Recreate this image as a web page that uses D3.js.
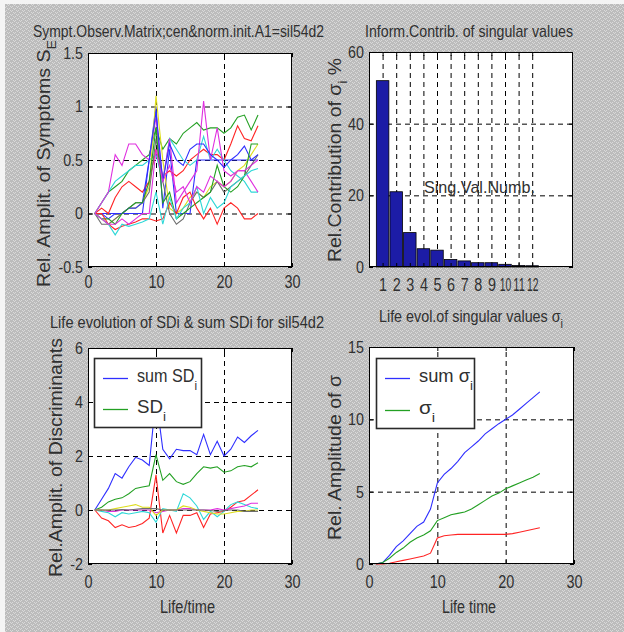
<!DOCTYPE html>
<html>
<head>
<meta charset="utf-8">
<script src="https://cdn.jsdelivr.net/npm/d3@7"></script>
<style>
body { margin: 0; background: #fff; }
text { font-family: "Liberation Sans", Arial, sans-serif; fill: #303030; }
</style>
</head>
<body>
<svg id="fig" width="624" height="632"></svg>
<script>
// ---- data ----
var lifeTime = [1,2,3,4,5,6,7,8,9,10,11,12,13,14,15,16,17,18,19,20,21,22,23,24,25];

// MATLAB-ish colour order
var lineColors = ["#2f2fff", "#23a023", "#ff2424", "#2fd8d8", "#df2fdf", "#dede1e", "#6e6e6e"];

// Sympt. Observ. Matrix (one row per symptom)
var symptomSeries = [
    [0,0,0,0,0,0,0,0,0.5,1.0,0.05,0.6,0,0,0,0.5,0.5,0.5,0.5,0.5,0.5,0.5,0.5,0.5,0.5],
    [0,0.1,0.2,0.25,0.3,0.4,0.45,0.5,0.55,0.8,0.6,0.7,0.65,0.75,0.8,0.85,0.78,0.8,0.8,0.75,0.8,0.9,0.92,0.78,0.92],
    [0,0.05,0,0.15,0.25,0.3,0.25,0.2,0.3,0.6,0.35,0.4,0.35,0.4,0.5,0.55,0.6,0.55,0.55,0.5,0.65,0.82,0.7,0.68,0.82],
    [0,0.1,0.2,0.3,0.35,0.4,0.45,0.45,0.5,0.55,0.3,0.7,0.6,0.5,0.45,0.5,0.72,0.5,0.6,0.5,0.4,0.35,0.3,0.2,0.2],
    [0,0.1,0.2,0.55,0.45,0.65,0.65,0.55,0.5,0.9,0.3,0.7,0.1,0.2,0.3,0.4,1.05,0.5,0.8,0.4,0.35,0.4,0.4,0.3,0.2],
    [0,-0.05,-0.1,-0.05,0,0.05,0.05,0.1,0.25,1.1,0.5,0.05,0,0.05,0.15,0.2,0.15,0.25,0.3,0.25,0.3,0.4,0.45,0.55,0.65],
    [0,-0.1,-0.1,-0.05,0,0.05,0.1,0.1,0.2,0.7,0.3,0,-0.1,-0.05,0.1,0.2,0.15,0.2,0.3,0.2,0.25,0.3,0.35,0.45,0.55],
    [0,0,-0.05,0,0,0.05,0.05,0.1,0.5,0.95,0.3,0.65,0.5,0.45,0.6,0.65,0.65,0.55,0.5,0.43,0.5,0.55,0.63,0.5,0.55],
    [0,-0.05,-0.05,-0.1,0,0.05,0.1,0.1,0.3,0.8,0.1,0.2,-0.05,0,0.05,0.1,0.15,0.2,0.45,0.25,0.2,0.25,0.35,0.65,0.65],
    [0,0,-0.1,-0.15,-0.12,-0.1,-0.08,-0.05,-0.05,-0.07,-0.05,0.1,0,0.15,0.2,0.05,-0.05,0.05,-0.1,0.05,0.1,0.05,-0.05,-0.05,0],
    [0,-0.05,-0.1,-0.2,-0.1,-0.12,-0.1,-0.08,-0.05,0.2,-0.1,0.15,-0.05,0.05,0.1,0.25,0,0.15,0.05,0.1,0.25,0.3,0.35,0.4,0.42],
    [0,-0.05,-0.1,-0.1,-0.05,-0.1,-0.05,0,0,0.6,0.3,0.45,0.2,0.25,0.1,0.25,0.2,0.35,0.3,0.25,0.3,0.4,0.4,0.45,0.5]
];

// Inform. contrib. of singular values
var singValNumbers = [1,2,3,4,5,6,7,8,9,10,11,12];
var singValContrib = [52, 21, 9.6, 5.1, 4.7, 2.1, 1.7, 1.2, 1.2, 0.75, 0.4, 0.35];

// Life evolution of SDi
var sumSD = [0,0.4,0.8,1.35,1.18,1.6,1.95,1.85,1.65,4.2,2.25,1.9,2.25,2.2,2.2,2.05,2.8,2.05,2.55,2.0,2.25,2.7,2.5,2.75,2.95];
var discriminantSeries = [
    [0,0.1,0.3,0.4,0.45,0.6,0.8,0.85,0.9,2.05,1.1,1.35,1.05,0.95,1.05,1.35,1.6,1.55,1.6,1.4,1.45,1.6,1.65,1.6,1.75],
    [0,-0.3,-0.4,-0.65,-0.55,-0.65,-0.6,-0.5,-0.3,1.3,-0.85,-0.2,-0.85,-0.2,-0.2,-0.1,-0.65,-0.15,-0.1,-0.05,0.1,0.3,0.35,0.55,0.75],
    [0,-0.05,-0.1,-0.25,-0.1,-0.15,-0.1,-0.05,-0.1,-0.45,0.05,0,-0.05,0.6,0.45,0.15,-0.35,-0.05,-0.25,-0.05,0.2,0.3,0.2,0.1,0.05],
    [0,0,-0.05,-0.05,0,0,0,0,0,-0.1,-0.05,0,0,0.05,0.05,0,0,0,0.05,0,0.05,0.1,0.15,0.25,0.25],
    [0,0,0,0.05,0.1,0.15,0.2,0.1,0.1,-0.2,0,0,0,0.15,0.1,0,-0.05,-0.1,-0.15,-0.15,-0.1,-0.05,-0.05,0,0],
    [0,0,0,0,0.02,0,0.03,0.05,0.05,0.05,0,0,0,0,0,0,0,-0.02,-0.05,-0.02,0,0,-0.05,-0.05,-0.05]
];
var discriminantColors = ["#23a023", "#ff2424", "#2fd8d8", "#df2fdf", "#dede1e", "#6e6e6e"];

// Life evolution of singular values
var sumSigma = [0,0.1,0.6,1.2,1.6,2.1,2.6,2.9,3.8,5.6,6.2,6.6,7.1,7.7,8.1,8.5,9.0,9.35,9.7,10.0,10.3,10.7,11.1,11.5,11.9];
var sigma1 = [0,0.1,0.4,0.8,1.1,1.5,1.8,2.0,2.3,3.0,3.2,3.4,3.5,3.6,3.8,4.1,4.4,4.7,4.9,5.2,5.4,5.6,5.8,6.0,6.25];
var sigma2 = [0,0,0.05,0.15,0.25,0.35,0.45,0.55,0.75,1.8,1.95,2.0,2.05,2.05,2.05,2.05,2.05,2.05,2.05,2.05,2.1,2.2,2.3,2.4,2.5];

var svg = d3.select("#fig");

// stippled grey figure background
var defs = svg.append("defs");
var pat = defs.append("pattern")
    .attr("id", "stipple")
    .attr("width", 6)
    .attr("height", 4)
    .attr("patternUnits", "userSpaceOnUse");
pat.append("rect").attr("width", 6).attr("height", 4).attr("fill", "#bcbcbc");
[[1,0],[3,0],[2,1],[0,2],[4,2],[5,3]].forEach(function(p) {
    pat.append("rect").attr("x", p[0]).attr("y", p[1]).attr("width", 1).attr("height", 1).attr("fill", "#d9d9d9");
});
svg.append("rect").attr("width", 624).attr("height", 632).attr("fill", "#f4f4f4");
svg.append("rect").attr("x", 5).attr("y", 4).attr("width", 619).attr("height", 628).attr("fill", "url(#stipple)");

// squeeze text horizontally, the old figure fonts are narrow
function condense(sel, f) {
    sel.each(function() {
        var l = this.getComputedTextLength();
        d3.select(this).attr("textLength", l * f).attr("lengthAdjust", "spacingAndGlyphs");
    });
}

function makeAxes(box, xDomain, yDomain, xTicks, yTicks, xGrid, yGrid, xPad) {
    var x = d3.scaleLinear().domain(xDomain).range([box.left, box.right]);
    var y = d3.scaleLinear().domain(yDomain).range([box.bottom, box.top]);
    var h = box.bottom - box.top;
    var w = box.right - box.left;

    var g = svg.append("g");
    g.append("rect")
     .attr("x", box.left).attr("y", box.top)
     .attr("width", w).attr("height", h)
     .attr("fill", "#fff");

    // dashed grid
    var gx = g.append("g")
     .attr("transform", `translate(0, ${box.bottom})`)
     .call(d3.axisBottom(x).tickValues(xGrid).tickSize(-h).tickFormat(""));
    var gy = g.append("g")
     .attr("transform", `translate(${box.left}, 0)`)
     .call(d3.axisLeft(y).tickValues(yGrid).tickSize(-w).tickFormat(""));
    [gx, gy].forEach(function(a) {
        a.select(".domain").remove();
        a.selectAll("line").attr("stroke", "#000").attr("stroke-dasharray", "5,4");
    });

    var dataLayer = g.append("g");
    var frame = g.append("g");

    var bottom = frame.append("g")
     .attr("transform", `translate(0, ${box.bottom})`)
     .call(d3.axisBottom(x).tickValues(xTicks).tickSizeInner(-4).tickSizeOuter(0)
        .tickPadding(xPad).tickFormat(d => String(d)));
    var left = frame.append("g")
     .attr("transform", `translate(${box.left}, 0)`)
     .call(d3.axisLeft(y).tickValues(yTicks).tickSizeInner(-4).tickSizeOuter(0)
        .tickPadding(5).tickFormat(d => String(d)));
    var top = frame.append("g")
     .attr("transform", `translate(0, ${box.top})`)
     .call(d3.axisTop(x).tickValues(xTicks).tickSizeInner(-4).tickSizeOuter(0).tickFormat(""));
    var right = frame.append("g")
     .attr("transform", `translate(${box.right}, 0)`)
     .call(d3.axisRight(y).tickValues(yTicks).tickSizeInner(-4).tickSizeOuter(0).tickFormat(""));
    [bottom, left, top, right].forEach(function(a) {
        a.select(".domain").remove();
        a.selectAll("line").attr("stroke", "#000");
        a.selectAll("text")
         .attr("font-family", "'Liberation Sans', Arial, sans-serif")
         .attr("fill", "#303030");
    });
    bottom.selectAll("text").attr("font-size", 19).call(condense, 0.76);
    left.selectAll("text").attr("font-size", 17).call(condense, 0.84);

    frame.append("rect")
     .attr("x", box.left + 0.5).attr("y", box.top + 0.5)
     .attr("width", w - 1).attr("height", h - 1)
     .attr("fill", "none").attr("stroke", "#000");

    return { x: x, y: y, layer: dataLayer, g: g, bottom: bottom };
}

function drawSeries(ax, values, color) {
    var line = d3.line()
     .x((d, i) => ax.x(lifeTime[i]))
     .y(d => ax.y(d));
    ax.layer.append("path")
     .datum(values)
     .attr("d", line)
     .attr("fill", "none")
     .attr("stroke", color)
     .attr("stroke-width", 1.1);
}

function addText(x, y, size, len, rotate) {
    var t = svg.append("text")
     .attr("font-size", size)
     .attr("transform", rotate ? `translate(${x}, ${y}) rotate(-90)` : `translate(${x}, ${y})`);
    if (len) t.attr("textLength", len).attr("lengthAdjust", "spacingAndGlyphs");
    return t;
}

function addLegend(ax, box, entries) {
    var leg = ax.g.append("g");
    leg.append("rect")
     .attr("x", box.x + 0.5).attr("y", box.y + 0.5)
     .attr("width", box.w).attr("height", box.h)
     .attr("fill", "#fff").attr("stroke", "#2a2a2a").attr("stroke-width", 1.6);
    entries.forEach(function(e) {
        leg.append("path")
         .attr("d", `M${box.x + 9},${e.y + 0.5}H${box.x + 34}`)
         .attr("fill", "none")
         .attr("stroke", e.color)
         .attr("stroke-width", 1.3);
        var t = leg.append("text")
         .attr("x", box.x + 43).attr("y", e.y + 4)
         .attr("font-size", 18)
         .attr("textLength", e.len).attr("lengthAdjust", "spacingAndGlyphs");
        t.append("tspan").text(e.label);
        t.append("tspan").attr("dy", 8).attr("font-size", 13).text("i");
    });
}

// ---------- top-left: symptom matrix ----------
var ax1 = makeAxes({left: 88, right: 292, top: 53, bottom: 267},
    [0, 30], [-0.5, 1.5], [0, 10, 20, 30], [-0.5, 0, 0.5, 1, 1.5], [10, 20], [0, 0.5, 1], 8);
symptomSeries.forEach(function(s, i) {
    drawSeries(ax1, s, lineColors[i % lineColors.length]);
});
addText(33, 37, 17, 291).text("Sympt.Observ.Matrix;cen&norm.init.A1=sil54d2");
var yl1 = addText(50, 287, 18, 247, true);
yl1.append("tspan").text("Rel.  Amplit.  of  Symptoms  S");
yl1.append("tspan").attr("dy", 6).attr("font-size", 13).text("E");

// ---------- top-right: bar chart ----------
var ax2 = makeAxes({left: 369, right: 573, top: 52, bottom: 267},
    [0, 15], [0, 60], singValNumbers, [0, 20, 40, 60], singValNumbers, [20, 40], 11);
ax2.bottom.selectAll("text").attr("font-size", 18)
 .each(function(d) {
     d3.select(this).attr("textLength", d < 10 ? 8 : 11.5).attr("lengthAdjust", "spacingAndGlyphs");
 });
ax2.layer.selectAll("rect")
 .data(singValContrib)
 .enter()
 .append("rect")
 .attr("x", (d, i) => ax2.x(singValNumbers[i] - 0.46))
 .attr("width", ax2.x(0.92) - ax2.x(0))
 .attr("y", d => ax2.y(d))
 .attr("height", d => ax2.y(0) - ax2.y(d))
 .attr("fill", "#1c1ca6")
 .attr("stroke", "#000")
 .attr("stroke-width", 0.8);
addText(365, 37, 17, 208).text("Inform.Contrib.  of singular values");
addText(424, 193, 17, 111).text("Sing.Val.Numb.");
var yl2 = addText(341, 262, 18, 204, true);
yl2.append("tspan").text("Rel.Contribution of σ");
yl2.append("tspan").attr("dy", 6).attr("font-size", 13).text("i");
yl2.append("tspan").attr("dy", -6).text("  %");

// ---------- bottom-left: discriminants ----------
var ax3 = makeAxes({left: 88, right: 292, top: 348, bottom: 564},
    [0, 30], [-2, 6], [0, 10, 20, 30], [-2, 0, 2, 4, 6], [10, 20], [0, 2, 4], 11);
drawSeries(ax3, sumSD, "#2f2fff");
discriminantSeries.forEach(function(s, i) {
    drawSeries(ax3, s, discriminantColors[i]);
});
addText(50, 328, 17, 274).text("Life evolution of SDi & sum SDi for sil54d2");
addText(160, 613, 18, 55).text("Life/time");
addText(62, 577, 18, 239, true).text("Rel.Amplit.  of  Discriminants");
addLegend(ax3, {x: 94, y: 358, w: 107, h: 69}, [
    {label: "sum SD", color: "#2f2fff", y: 378, len: 60},
    {label: "SD", color: "#23a023", y: 409, len: 29}
]);

// ---------- bottom-right: singular values ----------
var ax4 = makeAxes({left: 369, right: 574, top: 347, bottom: 564},
    [0, 30], [0, 15], [0, 10, 20, 30], [0, 5, 10, 15], [10, 20], [5, 10], 11);
drawSeries(ax4, sumSigma, "#2f2fff");
drawSeries(ax4, sigma1, "#23a023");
drawSeries(ax4, sigma2, "#ff2424");
var t4 = addText(379, 322, 17, 184);
t4.append("tspan").text("Life evol.of singular values σ");
t4.append("tspan").attr("dy", 6).attr("font-size", 13).text("i");
addText(442, 613, 18, 54).text("Life time");
addText(341, 540, 18, 165, true).text("Rel.  Amplitude of σ");
addLegend(ax4, {x: 376, y: 358, w: 98, h: 70}, [
    {label: "sum σ", color: "#2f2fff", y: 378, len: 54},
    {label: "σ", color: "#23a023", y: 410, len: 16}
]);
</script>
</body>
</html>
